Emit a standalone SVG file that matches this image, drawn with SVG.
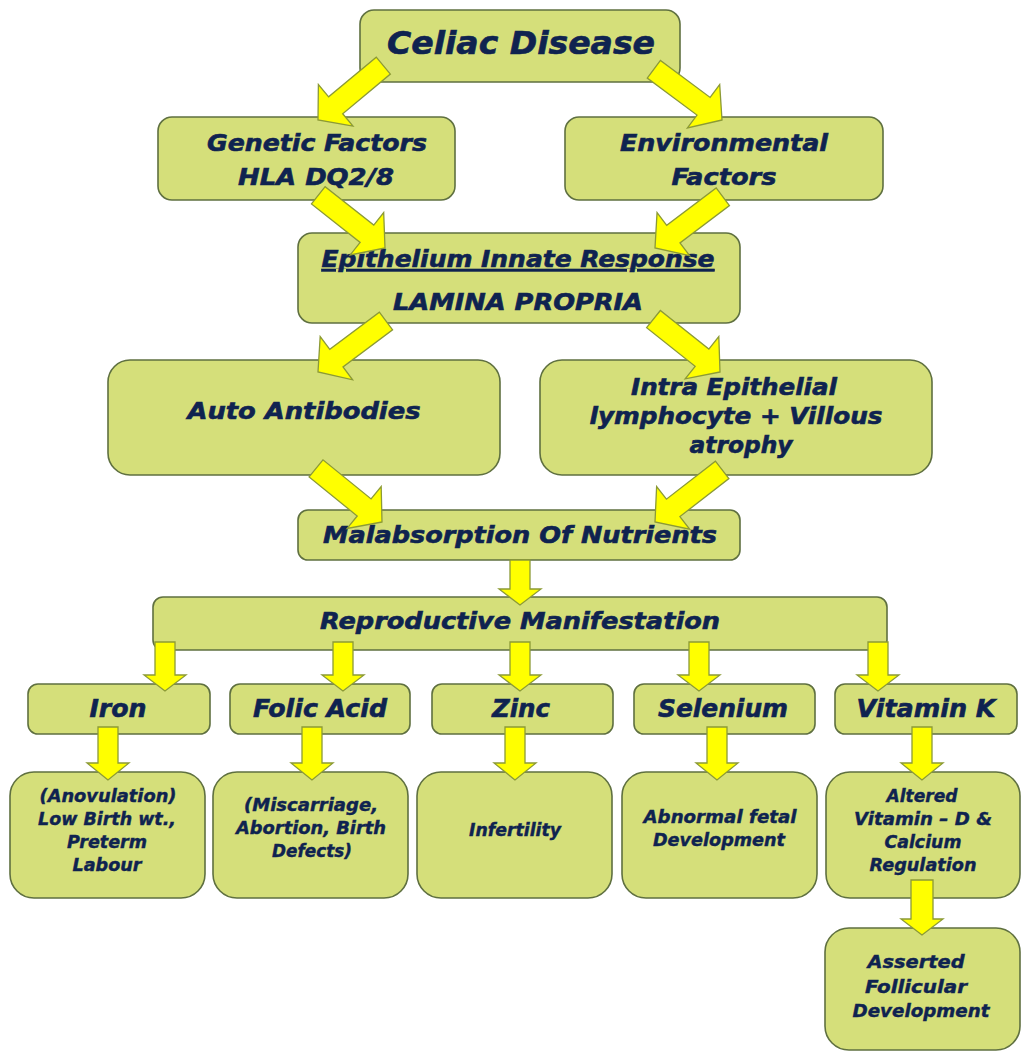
<svg xmlns="http://www.w3.org/2000/svg" xmlns:xlink="http://www.w3.org/1999/xlink" width="1021" height="1052" viewBox="0 0 1021 1052">
<style>
.box{fill:#d5df7a;stroke:#5f7040;stroke-width:1.6}
.arr{fill:#ffff00;stroke:#8c9a36;stroke-width:1.3;stroke-linejoin:miter}
text{font-family:"DejaVu Sans","Open Sans",sans-serif;font-weight:bold;font-style:italic;fill:#0f2350;stroke:#0f2350;stroke-width:0.6;text-anchor:middle}
.s1{font-size:32px}
.s2{font-size:23px}
.s3{font-size:22.5px}
.s4{font-size:24px}
.s5{font-size:17px;stroke-width:0.4}
</style>
<defs>
<path id="diag" d="M0,0 L-27,-23 L-11,-23 L-11,-85 L11,-85 L11,-23 L27,-23 Z"/>
<path id="v45" d="M0,0 L-21,-16 L-10,-16 L-10,-45 L10,-45 L10,-16 L21,-16 Z"/>
<path id="v49" d="M0,0 L-21,-16 L-10,-16 L-10,-49 L10,-49 L10,-16 L21,-16 Z"/>
<path id="v53" d="M0,0 L-21,-17 L-10,-17 L-10,-53 L10,-53 L10,-17 L21,-17 Z"/>
<path id="v55" d="M0,0 L-21,-16 L-11,-16 L-11,-55 L11,-55 L11,-16 L21,-16 Z"/>
</defs>
<rect width="1021" height="1052" fill="#ffffff"/>
<g id="n-celiac"><rect class="box" x="360" y="10" width="320" height="72" rx="14"/><text class="s1" x="521" y="54" textLength="268" lengthAdjust="spacingAndGlyphs">Celiac Disease</text></g>
<g id="n-genetic"><rect class="box" x="158" y="117" width="297" height="83" rx="14"/><text class="s2" x="317" y="151" textLength="220" lengthAdjust="spacingAndGlyphs">Genetic Factors</text><text class="s2" x="316" y="185" textLength="156" lengthAdjust="spacingAndGlyphs">HLA DQ2/8</text></g>
<g id="n-env"><rect class="box" x="565" y="117" width="318" height="83" rx="14"/><text class="s2" x="724" y="151" textLength="208" lengthAdjust="spacingAndGlyphs">Environmental</text><text class="s2" x="724" y="185" textLength="105" lengthAdjust="spacingAndGlyphs">Factors</text></g>
<g id="n-epith"><rect class="box" x="298" y="233" width="442" height="90" rx="14"/><text class="s2" x="518" y="267" textLength="393" lengthAdjust="spacingAndGlyphs" text-decoration="underline">Epithelium Innate Response</text><text class="s2" x="518" y="310" textLength="250" lengthAdjust="spacingAndGlyphs">LAMINA PROPRIA</text></g>
<g id="n-auto"><rect class="box" x="108" y="360" width="392" height="115" rx="22"/><text class="s3" x="304" y="419" textLength="233" lengthAdjust="spacingAndGlyphs">Auto Antibodies</text></g>
<g id="n-intra"><rect class="box" x="540" y="360" width="392" height="115" rx="22"/><text class="s3" x="734" y="395" textLength="206" lengthAdjust="spacingAndGlyphs">Intra Epithelial</text><text class="s3" x="736" y="424" textLength="293" lengthAdjust="spacingAndGlyphs">lymphocyte + Villous</text><text class="s3" x="741" y="453" textLength="103" lengthAdjust="spacingAndGlyphs">atrophy</text></g>
<g id="n-malab"><rect class="box" x="298" y="510" width="442" height="50" rx="10"/><text class="s3" x="520" y="543" textLength="394" lengthAdjust="spacingAndGlyphs">Malabsorption Of Nutrients</text></g>
<g id="n-repro"><rect class="box" x="153" y="597" width="734" height="53" rx="10"/><text class="s3" x="520" y="629" textLength="400" lengthAdjust="spacingAndGlyphs">Reproductive Manifestation</text></g>
<g id="n-iron"><rect class="box" x="28" y="684" width="182" height="50" rx="10"/><text class="s4" x="118" y="717" textLength="57" lengthAdjust="spacingAndGlyphs">Iron</text></g>
<g id="n-folic"><rect class="box" x="230" y="684" width="180" height="50" rx="10"/><text class="s4" x="320" y="717" textLength="134" lengthAdjust="spacingAndGlyphs">Folic Acid</text></g>
<g id="n-zinc"><rect class="box" x="432" y="684" width="181" height="50" rx="10"/><text class="s4" x="521" y="717" textLength="58" lengthAdjust="spacingAndGlyphs">Zinc</text></g>
<g id="n-selenium"><rect class="box" x="634" y="684" width="181" height="50" rx="10"/><text class="s4" x="723" y="717" textLength="130" lengthAdjust="spacingAndGlyphs">Selenium</text></g>
<g id="n-vitk"><rect class="box" x="835" y="684" width="182" height="50" rx="10"/><text class="s4" x="926" y="717" textLength="139" lengthAdjust="spacingAndGlyphs">Vitamin K</text></g>
<g id="n-anov"><rect class="box" x="10" y="772" width="195" height="126" rx="24"/><text class="s5" x="108" y="802" textLength="137" lengthAdjust="spacingAndGlyphs">(Anovulation)</text><text class="s5" x="107" y="825" textLength="138" lengthAdjust="spacingAndGlyphs">Low Birth wt.,</text><text class="s5" x="107" y="848" textLength="80" lengthAdjust="spacingAndGlyphs">Preterm</text><text class="s5" x="107" y="871" textLength="69" lengthAdjust="spacingAndGlyphs">Labour</text></g>
<g id="n-misc"><rect class="box" x="213" y="772" width="195" height="126" rx="24"/><text class="s5" x="311" y="811" textLength="134" lengthAdjust="spacingAndGlyphs">(Miscarriage,</text><text class="s5" x="311" y="834" textLength="150" lengthAdjust="spacingAndGlyphs">Abortion, Birth</text><text class="s5" x="312" y="857" textLength="80" lengthAdjust="spacingAndGlyphs">Defects)</text></g>
<g id="n-infert"><rect class="box" x="417" y="772" width="195" height="126" rx="24"/><text class="s5" x="515" y="836" textLength="92" lengthAdjust="spacingAndGlyphs">Infertility</text></g>
<g id="n-abn"><rect class="box" x="622" y="772" width="195" height="126" rx="24"/><text class="s5" x="720" y="823" textLength="153" lengthAdjust="spacingAndGlyphs">Abnormal fetal</text><text class="s5" x="719" y="846" textLength="132" lengthAdjust="spacingAndGlyphs">Development</text></g>
<g id="n-altered"><rect class="box" x="826" y="772" width="194" height="126" rx="24"/><text class="s5" x="922" y="802" textLength="71" lengthAdjust="spacingAndGlyphs">Altered</text><text class="s5" x="923" y="825" textLength="138" lengthAdjust="spacingAndGlyphs">Vitamin – D &amp;</text><text class="s5" x="923" y="848" textLength="77" lengthAdjust="spacingAndGlyphs">Calcium</text><text class="s5" x="923" y="871" textLength="107" lengthAdjust="spacingAndGlyphs">Regulation</text></g>
<g id="n-asserted"><rect class="box" x="825" y="928" width="195" height="122" rx="24"/><text class="s5" x="916" y="968" textLength="97" lengthAdjust="spacingAndGlyphs">Asserted</text><text class="s5" x="916" y="993" textLength="102" lengthAdjust="spacingAndGlyphs">Follicular</text><text class="s5" x="921" y="1017" textLength="137" lengthAdjust="spacingAndGlyphs">Development</text></g>
<g id="connectors" class="arr">
<use xlink:href="#diag" transform="translate(318,120) rotate(50.2)"/>
<use xlink:href="#diag" transform="translate(722,120) rotate(-53.3)"/>
<use xlink:href="#diag" transform="translate(385,248) rotate(-51.7)"/>
<use xlink:href="#diag" transform="translate(655,248) rotate(52.9)"/>
<use xlink:href="#diag" transform="translate(318,372) rotate(53.1)"/>
<use xlink:href="#diag" transform="translate(720,372) rotate(-51.5)"/>
<use xlink:href="#diag" transform="translate(382,522) rotate(-50.9)"/>
<use xlink:href="#diag" transform="translate(655,522) rotate(52.2)"/>
<use xlink:href="#v45" transform="translate(520,605)"/>
<use xlink:href="#v49" transform="translate(165,691)"/>
<use xlink:href="#v49" transform="translate(343,691)"/>
<use xlink:href="#v49" transform="translate(520,691)"/>
<use xlink:href="#v49" transform="translate(699,691)"/>
<use xlink:href="#v49" transform="translate(878,691)"/>
<use xlink:href="#v53" transform="translate(108,780)"/>
<use xlink:href="#v53" transform="translate(312,780)"/>
<use xlink:href="#v53" transform="translate(515,780)"/>
<use xlink:href="#v53" transform="translate(717,780)"/>
<use xlink:href="#v53" transform="translate(922,780)"/>
<use xlink:href="#v55" transform="translate(922,935)"/>
</g>
</svg>
